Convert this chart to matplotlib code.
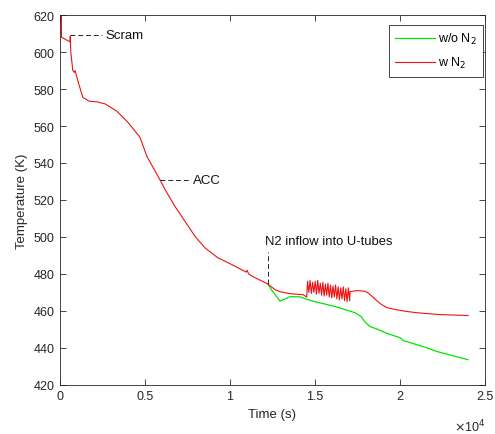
import matplotlib
matplotlib.use("Agg")
import matplotlib.pyplot as plt
from matplotlib.ticker import FuncFormatter

plt.rcParams['font.family'] = ['Liberation Sans', 'DejaVu Sans']

# common part of both runs (before N2 reaches the U-tubes)
t_common = [90, 90, 300, 600, 610, 640, 760, 850, 900, 950, 1100, 1350, 1700, 2200, 2650,
            3350, 4000, 4700, 5120, 5880, 6180, 6760, 7350, 7940, 8530, 9290, 10120,
            10950, 11000, 11100, 11350, 11800, 12235]
T_common = [620, 608, 607, 605.5, 608.5, 600, 590, 589, 590, 588, 583, 575.5, 573.5, 573,
            572, 568, 562, 554, 543.5, 531, 525.7, 516.6, 508.5, 500.4, 494.1, 488.7, 485,
            481, 482, 480, 478.5, 476.5, 474.5]

# w/o N2 after 12235 s
t_wo = [12235, 12470, 12940, 13240, 13530, 14120, 14530, 15000, 16200, 17350, 17700,
        17940, 18230, 18700, 19180, 20000, 20180, 21590, 22180, 23000, 24000]
T_wo = [474.5, 471, 465.3, 466.5, 467.7, 467.6, 466.2, 465, 462.3, 459, 457,
        454, 451.5, 450, 448, 445.5, 444, 440, 438, 436, 433.6]

# w N2 after 12235 s
t_w = [12650, 12940, 13530, 14290, 14510,
       14560, 14635, 14710, 14785, 14860, 14935, 15010, 15085, 15160, 15235,
       15310, 15385, 15460, 15535, 15610, 15685, 15760, 15835, 15910, 15985,
       16060, 16135, 16210, 16285, 16360, 16435, 16510, 16585, 16660, 16735,
       16810, 16885, 16960, 17035,
       17060, 17500, 17950, 18150, 18400, 18630, 18900, 19220, 19800, 20390, 21000,
       22350, 23000, 24000]
T_w = [471.5, 470.4, 469.3, 468.8, 467.5,
       476, 470, 476.5, 469.5, 475.5, 470, 476, 469, 476.5, 469.5,
       475, 468.5, 475.5, 468, 474.5, 468.5, 475, 467.5, 474, 467,
       473.5, 467.5, 474, 466.5, 473, 466, 472.5, 466.5, 473, 465.5,
       472, 465, 472.5, 465.5,
       470.4, 471, 470.6, 469.5, 467.5, 465.5, 463.5, 461.8, 460.6, 459.7, 459,
       458, 457.8, 457.5]

fig = plt.figure(figsize=(4.95, 4.35), dpi=100)
ax = fig.add_axes([0.121, 0.113, 0.859, 0.850])

ax.plot(t_wo, T_wo, color='#00e600', lw=0.9, label='w/o N$_2$')
ax.plot(t_common + t_w, T_common + T_w, color='#ee1111', lw=0.8, label='w N$_2$')

# annotations
ax.plot([600, 2460], [609.2, 609.2], '--', color='#222222', lw=0.7, dashes=(5, 3))
ax.text(2650, 609.2, 'Scram', fontsize=9.5, va='center', color='#111111')
ax.plot([5880, 7650], [531, 531], '--', color='#222222', lw=0.7, dashes=(5, 3))
ax.text(7820, 531, 'ACC', fontsize=9.5, va='center', color='#111111')
ax.plot([12235, 12235], [474.7, 492], '--', color='#222222', lw=0.7, dashes=(5, 3))
ax.text(12060, 494.5, 'N2 inflow into U-tubes', fontsize=9.4, va='bottom', color='#111111')

ax.set_xlim(0, 25000)
ax.set_ylim(420, 620)
ax.set_xticks([0, 5000, 10000, 15000, 20000, 25000])
ax.set_yticks(range(420, 621, 20))
ax.xaxis.set_major_formatter(FuncFormatter(lambda v, p: f"{v / 1e4:g}"))
ax.tick_params(direction='in', top=True, right=True, length=4, width=0.6,
               labelsize=9, colors='#262626', pad=4)
for s in ax.spines.values():
    s.set_color('#262626')
    s.set_linewidth(0.6)

ax.set_xlabel('Time (s)', fontsize=9.5, color='#262626')
ax.set_ylabel('Temperature (K)', fontsize=9.5, color='#262626')
ax.text(1.0, -0.088, r'$\times$10$^4$', transform=ax.transAxes, ha='right', va='top',
        fontsize=9, color='#262626')

leg = ax.legend(loc='upper right', bbox_to_anchor=(1 - 2 / 425, 1 - 10 / 370),
                borderaxespad=0, fancybox=False, fontsize=9, handlelength=3.2,
                handletextpad=0.25, borderpad=0.5, labelspacing=0.7,
                framealpha=1, edgecolor='#262626')
leg.get_frame().set_linewidth(0.6)

fig.savefig('out.png', dpi=100)
